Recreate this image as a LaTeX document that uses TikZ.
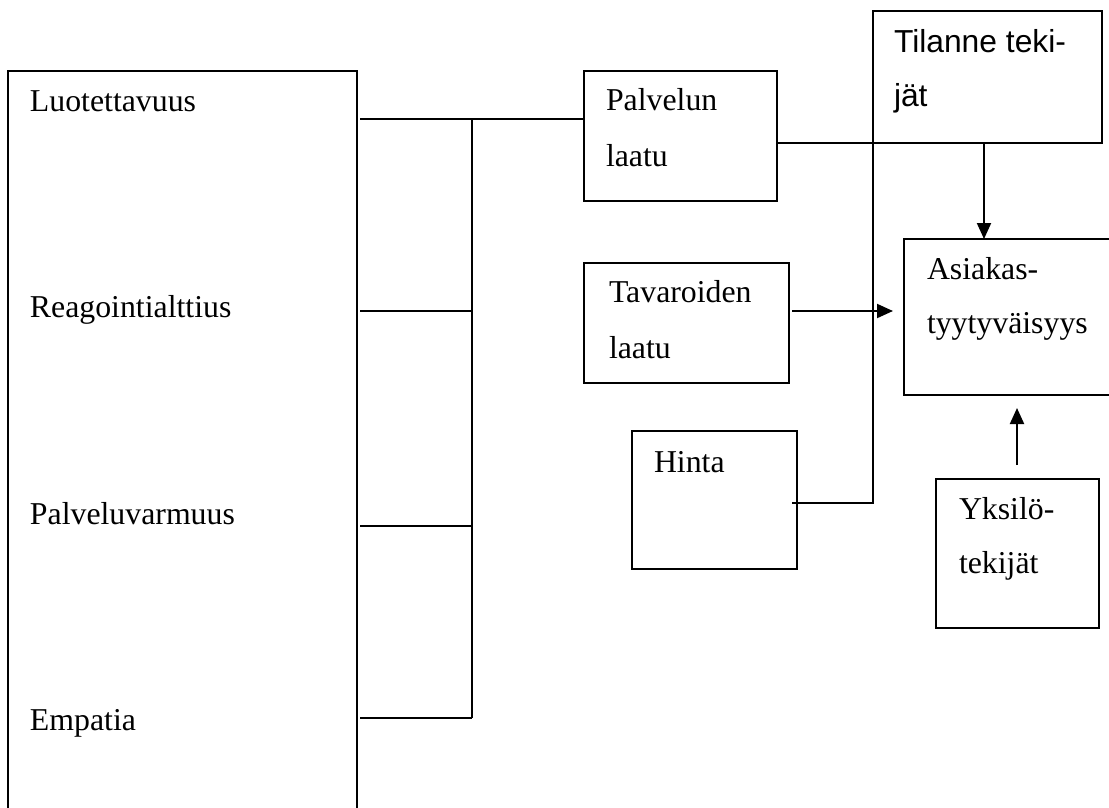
\documentclass[tikz,border=0pt]{standalone}
\usepackage{fontspec}
\setmainfont{Liberation Serif}
\newfontfamily\arialf{Liberation Sans}
\usetikzlibrary{arrows.meta}
\begin{document}
\begin{tikzpicture}[x=1pt,y=-1pt,line width=2pt,
  box/.style={draw,line width=2pt,rectangle,inner sep=0pt,outer sep=0pt,anchor=north west},
  lbl/.style={anchor=base west,inner sep=0pt,font=\fontsize{31.8}{38}\selectfont},
  slbl/.style={anchor=base west,inner sep=0pt,font=\arialf\fontsize{31.8}{38}\selectfont},
  arr/.style={-{Triangle[length=16pt,width=14pt]}}]
\clip (0,0) rectangle (1109,807);
% boxes
\node[box,minimum width=349pt,minimum height=750pt] (lb) at (8,71) {};
\node[box,minimum width=193pt,minimum height=130pt] (pl) at (584,71) {};
\node[box,minimum width=229pt,minimum height=132pt] (tt) at (873,11) {};
\node[box,minimum width=220pt,minimum height=156pt] (as) at (904,239) {};
\node[box,minimum width=205pt,minimum height=120pt] (tv) at (584,263) {};
\node[box,minimum width=165pt,minimum height=138pt] (hi) at (632,431) {};
\node[box,minimum width=163pt,minimum height=149pt] (yk) at (936,479) {};
% texts
\node[lbl] (t1) at (29,111) {Luotettavuus};
\node[lbl] (t2) at (29,317) {Reagointialttius};
\node[lbl] (t3) at (29,524) {Palveluvarmuus};
\node[lbl] (t4) at (29,730) {Empatia};
\node[lbl] (t5) at (605,110) {Palvelun};
\node[lbl] (t6) at (605,166) {laatu};
\node[slbl] (t7) at (893,52) {Tilanne teki-};
\node[slbl] (t8) at (893,106) {jät};
\node[lbl] (t9) at (926,279) {Asiakas-};
\node[lbl] (t10) at (926,333) {tyytyväisyys};
\node[lbl] (t11) at (608,302) {Tavaroiden};
\node[lbl] (t12) at (608,358) {laatu};
\node[lbl] (t13) at (653,472) {Hinta};
\node[lbl] (t14) at (958,519) {Yksilö-};
\node[lbl] (t15) at (958,573) {tekijät};
% connectors
\coordinate (l1) at (360,119);
\coordinate (l2) at (360,311);
\coordinate (l3) at (360,526);
\coordinate (l4) at (360,718);
\coordinate (bt) at (472,119);
\coordinate (bb) at (472,718);
\draw (l1) -- (l1 -| pl.west);
\draw (bt) -- (bb);
\draw (l2) -- (l2 -| bt);
\draw (l3) -- (l3 -| bt);
\draw (l4) -- (bb);
\coordinate (p1) at (777,143);
\coordinate (h1) at (792,503);
\draw (p1) -- (tt.south west) -- (tt.south west |- h1) -- (h1);
\coordinate (a0) at (984,143);
\draw[arr] (a0) -- (a0 |- as.north);
\coordinate (a1) at (792,311);
\coordinate (a2) at (893,311);
\draw[arr] (a1) -- (a2);
\coordinate (y1) at (1017,465);
\coordinate (y2) at (1017,408);
\draw[arr] (y1) -- (y2);
\end{tikzpicture}
\end{document}
